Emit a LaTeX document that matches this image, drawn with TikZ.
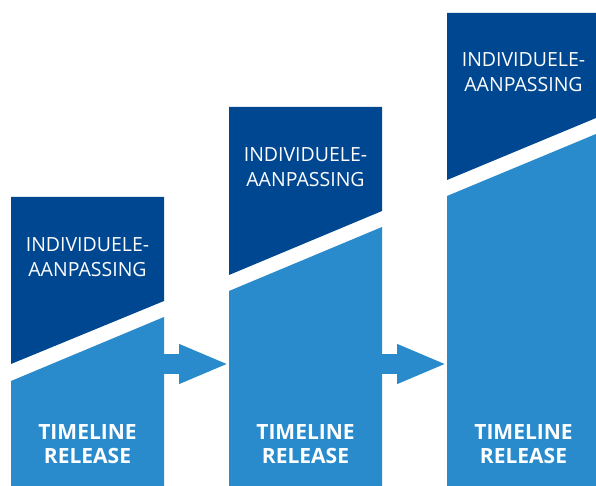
\documentclass[tikz,border=0pt]{standalone}
\usepackage{fontspec}
\setmainfont{Open Sans}
\usetikzlibrary{arrows.meta}
\definecolor{darkblue}{RGB}{0,71,145}
\definecolor{lightblue}{RGB}{42,139,204}
\tikzset{
  upper/.style={fill=darkblue},
  lower/.style={fill=lightblue},
  custom/.style={text=white,align=center,font=\fontsize{19.5}{25}\selectfont},
  release/.style={text=white,align=center,font=\fontsize{21}{24}\selectfont\bfseries},
  step arrow/.style={lightblue,line width=20pt,-{Triangle[length=50pt,width=36pt]}}
}
\begin{document}
\begin{tikzpicture}[x=1pt,y=1pt]
  \useasboundingbox (0,0) rectangle (596,486);
  \fill[upper] (11,289) -- (164,289) -- (164,185) -- (11,122) -- cycle;
  \fill[lower] (11,0) -- (164,0) -- (164,169) -- (11,105) -- cycle;
  \fill[upper] (229,379) -- (382,379) -- (382,275) -- (229,211) -- cycle;
  \fill[lower] (229,0) -- (382,0) -- (382,259) -- (229,195) -- cycle;
  \fill[upper] (447,473) -- (596,473) -- (596,368) -- (447,306) -- cycle;
  \fill[lower] (447,0) -- (596,0) -- (596,352) -- (447,290) -- cycle;
  \node[custom] (c1) at (87.5,229) {INDIVIDUELE-\\AANPASSING};
  \node[custom] (c2) at (305.5,318.5) {INDIVIDUELE-\\AANPASSING};
  \node[custom] (c3) at (523.5,413.5) {INDIVIDUELE-\\AANPASSING};
  \node[release] (r1) at (87.5,41.5) {TIMELINE\\RELEASE};
  \node[release] (r2) at (305.5,41.5) {TIMELINE\\RELEASE};
  \node[release] (r3) at (523.5,41.5) {TIMELINE\\RELEASE};
  \coordinate (o1) at (164,122);
  \coordinate (i2) at (229,122);
  \coordinate (o2) at (382,122);
  \coordinate (i3) at (447,122);
  \draw[step arrow] (o1) -- (i2);
  \draw[step arrow] (o2) -- (i3);
\end{tikzpicture}
\end{document}
